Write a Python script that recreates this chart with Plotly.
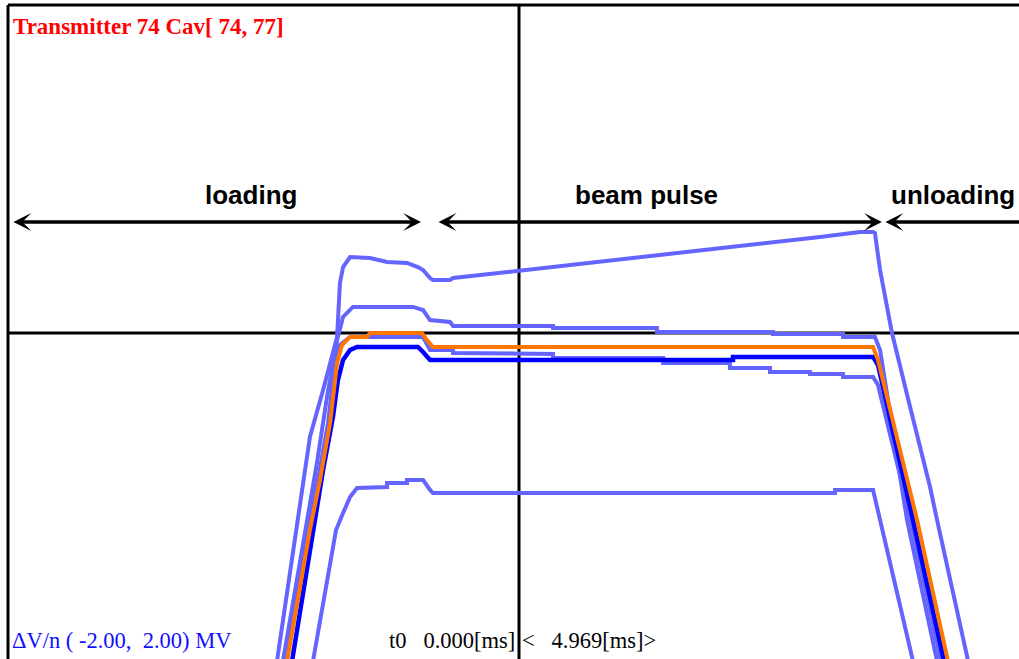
import plotly.graph_objects as go

# ---------------- data (time in ms, dV/n in MV) ----------------
T_SPAN = 4.969          # full time window [ms]
V_RANGE = (-2.0, 2.0)   # dV/n scale [MV]

t_L1 = [1.308, 1.410, 1.468, 1.532, 1.600, 1.614, 1.629, 1.663, 1.711, 1.760,
        1.843, 1.940, 1.993, 2.018, 2.052, 2.066, 2.149, 2.164, 3.948, 4.021,
        4.142, 4.206, 4.215, 4.240, 4.298, 4.386, 4.483, 4.517, 4.668]
v_L1 = [-2.000, -1.140, -0.634, -0.348, -0.024, 0.305, 0.402, 0.463, 0.463, 0.457,
        0.433, 0.427, 0.402, 0.384, 0.335, 0.323, 0.323, 0.335, 0.585, 0.598,
        0.616, 0.616, 0.610, 0.384, 0.000, -0.451, -0.939, -1.140, -2.000]

t_L2 = [1.337, 1.444, 1.502, 1.551, 1.600, 1.629, 1.677, 1.969, 2.018, 2.052,
        2.149, 2.164, 2.650, 2.650, 3.155, 3.155, 3.719, 3.719, 4.060, 4.060,
        4.215, 4.240, 4.371, 4.517]
v_L2 = [-2.000, -1.201, -0.793, -0.390, -0.043, 0.098, 0.159, 0.159, 0.140, 0.079,
        0.067, 0.043, 0.043, 0.030, 0.030, 0.006, 0.006, -0.006, -0.006, -0.024,
        -0.024, -0.104, -1.140, -2.000]

t_L3 = [1.347, 1.459, 1.507, 1.556, 1.590, 1.614, 1.663, 2.018, 2.052, 2.164,
        2.164, 2.441, 2.441, 2.650, 2.650, 3.185, 3.185, 3.510, 3.510, 3.705,
        3.705, 3.899, 3.899, 4.060, 4.060, 4.206, 4.230, 4.390, 4.536]
v_L3 = [-2.000, -1.201, -0.896, -0.549, -0.183, -0.073, -0.024, -0.024, -0.104, -0.104,
        -0.122, -0.122, -0.128, -0.128, -0.152, -0.152, -0.183, -0.183, -0.213, -0.213,
        -0.238, -0.238, -0.250, -0.250, -0.268, -0.268, -0.317, -1.140, -2.000]

t_L4 = [1.483, 1.595, 1.629, 1.663, 1.697, 1.760, 1.760, 1.843, 1.843, 1.940,
        1.940, 2.018, 2.052, 2.066, 4.021, 4.021, 4.206, 4.240, 4.400]
v_L4 = [-2.000, -1.201, -1.098, -1.000, -0.945, -0.945, -0.939, -0.939, -0.915, -0.915,
        -0.896, -0.896, -0.957, -0.976, -0.976, -0.957, -0.957, -1.140, -2.000]

t_blue = [1.381, 1.483, 1.532, 1.580, 1.604, 1.629, 1.663, 1.697, 1.993, 2.018,
          2.052, 3.525, 3.525, 4.206, 4.230, 4.400, 4.551]
v_blue = [-2.000, -1.201, -0.835, -0.512, -0.287, -0.165, -0.104, -0.085, -0.085, -0.116,
          -0.165, -0.165, -0.146, -0.146, -0.195, -1.140, -2.000]

t_orange = [1.357, 1.468, 1.517, 1.566, 1.600, 1.624, 1.663, 1.745, 1.760, 2.013,
            2.037, 2.066, 4.206, 4.230, 4.420, 4.570]
v_orange = [-2.000, -1.201, -0.896, -0.549, -0.183, -0.073, -0.024, -0.024, 0.000, 0.000,
            -0.043, -0.085, -0.085, -0.165, -1.140, -2.000]

# phase markers (ms) and their labels
phase_labels = ["loading", "beam pulse", "unloading"]
phase_starts = [0.019, 2.086, 4.259]
phase_ends = [2.008, 4.249, 5.300]
phase_label_t = [1.181, 3.102, 4.595]
ARROW_V = 0.677
LABEL_V = 0.841

title_text = "Transmitter 74 Cav[ 74, 77]"
scale_text = "\u0394V/n (\u00a0-2.00,\u00a0\u00a02.00)\u00a0MV"
t0_text = "t0\u00a0\u00a0\u00a00.000[ms]"
win_text = "<\u00a0\u00a0\u00a04.969[ms]>"

# ---------------- figure ----------------
W, H = 1019, 659
ML, MT = 8, 5
LIGHT = "#6464ff"

fig = go.Figure()
for tt, vv in [(t_L1, v_L1), (t_L2, v_L2), (t_L3, v_L3), (t_L4, v_L4)]:
    fig.add_trace(go.Scatter(x=tt, y=vv, mode="lines",
                             line=dict(color=LIGHT, width=4), hoverinfo="skip"))
fig.add_trace(go.Scatter(x=t_blue, y=v_blue, mode="lines",
                         line=dict(color="#0000ff", width=4.5), hoverinfo="skip"))
fig.add_trace(go.Scatter(x=t_orange, y=v_orange, mode="lines",
                         line=dict(color="#ff7700", width=4), hoverinfo="skip"))

# x range: frame is 1022 px wide for T_SPAN, visible part 1011 px
x_max = T_SPAN * (W - ML) / (W - ML + 11)
px_per_mv = (H - MT + 2) / (V_RANGE[1] - V_RANGE[0])
y_min = V_RANGE[1] - (H - MT) / px_per_mv

# crosshair
fig.add_shape(type="line", xref="x", yref="paper", x0=T_SPAN / 2, x1=T_SPAN / 2,
              y0=0, y1=1, line=dict(color="black", width=3), layer="below")
fig.add_shape(type="line", xref="paper", yref="y", x0=0, x1=1, y0=0, y1=0,
              line=dict(color="black", width=3), layer="below")
# frame (top and left edges)
fig.add_shape(type="line", xref="paper", yref="paper", x0=0, x1=1, y0=1, y1=1,
              line=dict(color="black", width=3))
fig.add_shape(type="line", xref="paper", yref="paper", x0=0, x1=0, y0=0, y1=1,
              line=dict(color="black", width=3))

# phase arrows and labels
for lab, s, e, lt in zip(phase_labels, phase_starts, phase_ends, phase_label_t):
    fig.add_annotation(x=e, y=ARROW_V, ax=s, ay=ARROW_V, xref="x", yref="y",
                       axref="x", ayref="y", text="", showarrow=True,
                       arrowhead=3, startarrowhead=3, arrowside="end+start",
                       arrowwidth=3.5, arrowsize=0.85, startarrowsize=0.85,
                       arrowcolor="black")
    fig.add_annotation(x=lt, y=LABEL_V, xref="x", yref="y", text="<b>%s</b>" % lab,
                       showarrow=False, xanchor="center", yanchor="middle",
                       font=dict(family="Liberation Sans, Arial", size=26, color="black"))

def px_x(p):
    return (p - ML) / (W - ML)

def px_y(p):
    return (H - p) / (H - MT)

fig.add_annotation(x=px_x(11), y=px_y(27), xref="paper", yref="paper",
                   text="<b>%s</b>" % title_text, showarrow=False,
                   xanchor="left", yanchor="middle",
                   font=dict(family="Liberation Serif, Times New Roman", size=23, color="#ff0000"))
fig.add_annotation(x=px_x(10), y=px_y(640), xref="paper", yref="paper",
                   text=scale_text, showarrow=False, xanchor="left", yanchor="middle",
                   font=dict(family="Liberation Serif, Times New Roman", size=22.5, color="#1010ff"))
fig.add_annotation(x=px_x(517), y=px_y(640), xref="paper", yref="paper",
                   text=t0_text, showarrow=False, xanchor="right", yanchor="middle",
                   font=dict(family="Liberation Serif, Times New Roman", size=22.5, color="black"))
fig.add_annotation(x=px_x(520), y=px_y(640), xref="paper", yref="paper",
                   text=win_text, showarrow=False, xanchor="left", yanchor="middle",
                   font=dict(family="Liberation Serif, Times New Roman", size=22.5, color="black"))

fig.update_layout(
    width=W, height=H,
    margin=dict(l=ML, r=0, t=MT, b=0, pad=0, autoexpand=False),
    paper_bgcolor="white", plot_bgcolor="white",
    showlegend=False,
    xaxis=dict(range=[0, x_max], visible=False, fixedrange=True),
    yaxis=dict(range=[y_min, V_RANGE[1]], visible=False, fixedrange=True),
)

fig.write_html("out.html",
               config={"displayModeBar": False, "staticPlot": True},
               post_script="document.body.style.margin='0px';document.body.style.overflow='hidden';")
